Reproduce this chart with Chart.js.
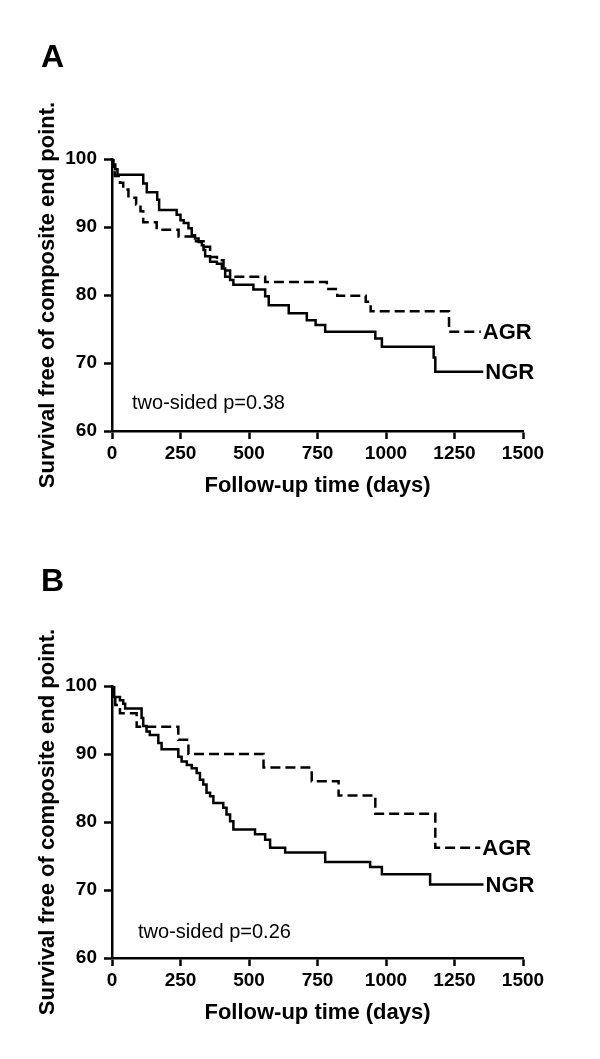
<!DOCTYPE html>
<html>
<head>
<meta charset="utf-8">
<script src="https://cdn.jsdelivr.net/npm/chart.js@4.4.0/dist/chart.umd.min.js"></script>
<style>
  body { margin: 0; background: #fff; width: 600px; height: 1059px; position: relative; overflow: hidden; }
  .panel { position: absolute; left: 0; width: 600px; height: 530px; }
  .letter { position: absolute; left: 41px; font: bold 32px Arial, "Liberation Sans", sans-serif; color: #000; }
</style>
</head>
<body>
<div class="panel" style="top:0"><canvas id="chartA" width="600" height="530"></canvas></div>
<div class="panel" style="top:527px"><canvas id="chartB" width="600" height="530"></canvas></div>
<div class="letter" style="top:38px">A</div>
<div class="letter" style="top:562px">B</div>
<script>
// panel A
const daysA_NGR = [0, 5, 12, 20, 114, 127, 165, 172, 236, 250, 262, 279, 291, 303, 316, 328, 334, 340, 358, 383, 401, 413, 431, 443, 516, 559, 572, 645, 711, 743, 778, 961, 985, 1174, 1180, 1355];
const survA_NGR = [100, 99.2, 98.5, 97.7, 96.4, 95.1, 94.0, 92.5, 91.8, 91.0, 90.6, 89.8, 88.8, 88.3, 87.8, 87.3, 86.6, 85.7, 84.9, 84.6, 83.9, 82.7, 82.2, 81.5, 80.8, 79.8, 78.5, 77.3, 76.3, 75.6, 74.6, 73.6, 72.4, 70.8, 68.7, 68.7];
const daysA_AGR = [0, 4, 10, 29, 41, 60, 88, 104, 114, 163, 243, 300, 334, 358, 383, 407, 431, 559, 784, 822, 926, 944, 1230, 1346];
const survA_AGR = [100, 98.6, 97.5, 96.5, 95.5, 94.3, 93.3, 92.3, 90.7, 89.6, 88.6, 87.9, 87.1, 85.6, 85.1, 83.6, 82.7, 81.9, 80.9, 79.9, 79.0, 77.6, 74.6, 74.6];

// panel B
const daysB_NGR = [0, 8, 29, 41, 48, 108, 114, 126, 138, 169, 181, 242, 254, 273, 291, 309, 321, 333, 345, 358, 370, 406, 418, 431, 443, 522, 559, 577, 632, 778, 942, 985, 1161, 1356];
const survB_NGR = [100, 98.4, 97.9, 97.4, 96.7, 95.3, 94.1, 93.3, 92.8, 91.6, 90.7, 89.6, 88.9, 88.4, 87.9, 87.2, 86.2, 85.5, 84.3, 83.8, 82.8, 82.1, 81.1, 80.1, 78.9, 78.2, 77.4, 76.2, 75.5, 74.1, 73.4, 72.3, 70.8, 70.8];
const daysB_AGR = [0, 4, 12, 29, 90, 242, 279, 553, 729, 827, 961, 1180, 1344];
const survB_AGR = [100, 98.5, 97.2, 96.0, 94.0, 92.1, 90.0, 88.0, 86.0, 83.9, 81.2, 76.2, 76.2];

const xTicks = [0, 250, 500, 750, 1000, 1250, 1500];
const yTicks = [60, 70, 80, 90, 100];

const FONT = 'Arial, "Liberation Sans", sans-serif';

function pts(days, surv) {
  return days.map((d, i) => ({ x: d, y: surv[i] }));
}

// writes the group name at the end of each curve and the p value
function notesPlugin(pText, pAt) {
  return {
    id: 'notes',
    afterDatasetsDraw(chart) {
      const { ctx, scales: { x, y } } = chart;
      ctx.save();
      ctx.fillStyle = '#000';
      ctx.textBaseline = 'middle';
      ctx.textAlign = 'left';
      ctx.font = 'bold 22px ' + FONT;
      chart.data.datasets.forEach((ds, i) => {
        const pts = chart.getDatasetMeta(i).data;
        const last = pts[pts.length - 1];
        ctx.fillText(ds.label, last.x + 2, last.y + 1);
      });
      ctx.font = '20px ' + FONT;
      ctx.fillText(pText, x.getPixelForValue(pAt[0]), y.getPixelForValue(pAt[1]));
      ctx.restore();
    }
  };
}

function makePanel(id, ngr, agr, pText, pAt) {
  const axisGrid = { display: true, drawOnChartArea: false, drawTicks: true, tickLength: 8, tickWidth: 2.5, tickColor: '#000' };
  return new Chart(document.getElementById(id), {
    type: 'line',
    data: {
      datasets: [
        { label: 'AGR', data: agr, borderColor: '#000', borderWidth: 2.5, borderDash: [10, 5], stepped: 'before', pointRadius: 0, fill: false },
        { label: 'NGR', data: ngr, borderColor: '#000', borderWidth: 2.5, stepped: 'before', pointRadius: 0, fill: false }
      ]
    },
    options: {
      responsive: false,
      animation: false,
      layout: { padding: { top: 159, right: 77, bottom: 0, left: 0 } },
      plugins: { legend: { display: false }, tooltip: { enabled: false } },
      scales: {
        x: {
          type: 'linear', min: 0, max: 1500,
          afterBuildTicks: s => { s.ticks = xTicks.map(v => ({ value: v })); },
          afterFit: s => { s.height = 530 - 159 - 272; },
          grid: axisGrid,
          border: { display: true, color: '#000', width: 2.5 },
          ticks: { color: '#000', padding: 3, maxRotation: 0, callback: v => String(v), font: { family: FONT, size: 19, weight: 'bold' } },
          title: { display: true, text: 'Follow-up time (days)', color: '#000', padding: { top: 0, bottom: 31 }, font: { family: FONT, size: 22, weight: 'bold' } }
        },
        y: {
          type: 'linear', min: 60, max: 100,
          afterBuildTicks: s => { s.ticks = yTicks.map(v => ({ value: v })); },
          afterFit: s => { s.width = 112; },
          grid: axisGrid,
          border: { display: true, color: '#000', width: 2.5 },
          ticks: { color: '#000', padding: 7, callback: v => String(v), font: { family: FONT, size: 19, weight: 'bold' } },
          title: { display: true, text: 'Survival free of composite end point.', color: '#000', padding: { top: 35, bottom: 0 }, font: { family: FONT, size: 22, weight: 'bold' } }
        }
      }
    },
    plugins: [notesPlugin(pText, pAt)]
  });
}

makePanel('chartA', pts(daysA_NGR, survA_NGR), pts(daysA_AGR, survA_AGR), 'two-sided p=0.38', [73, 64.1]);
makePanel('chartB', pts(daysB_NGR, survB_NGR), pts(daysB_AGR, survB_AGR), 'two-sided p=0.26', [95, 63.8]);
</script>
</body>
</html>
